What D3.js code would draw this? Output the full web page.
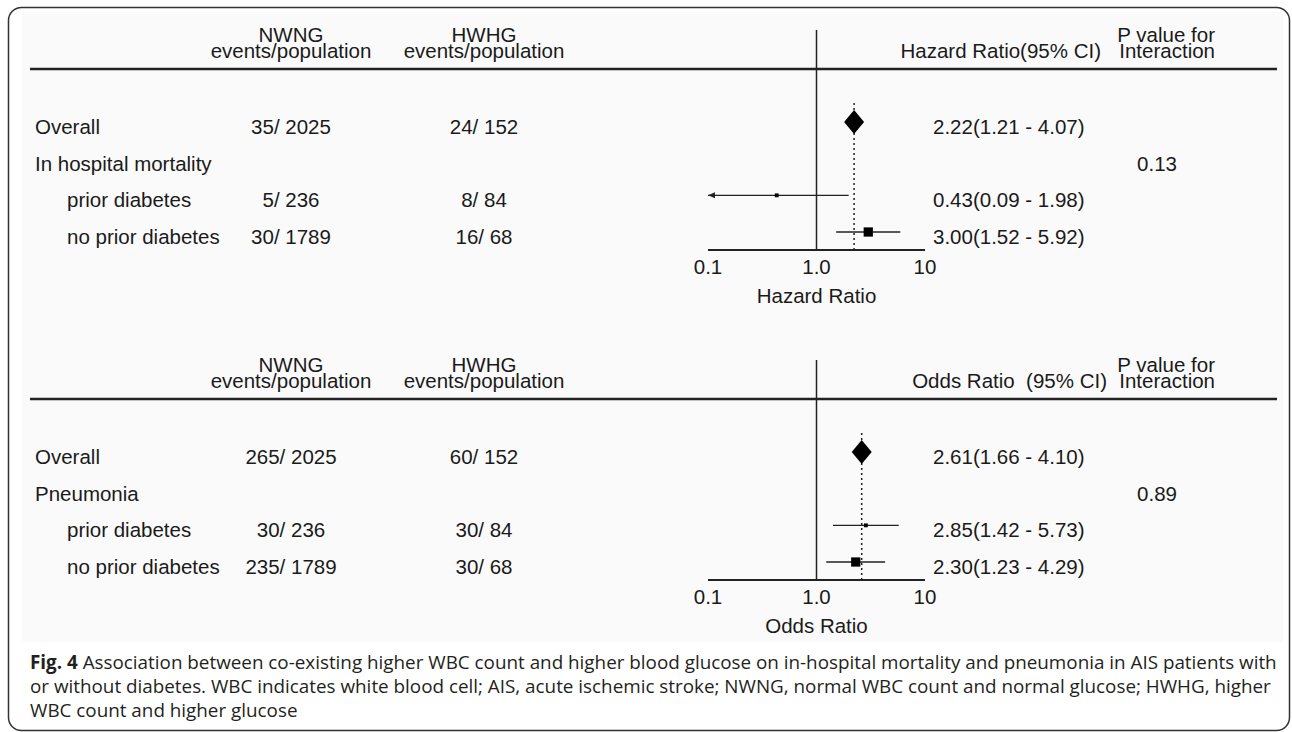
<!DOCTYPE html>
<html lang="en">
<head>
    <meta charset="UTF-8">
    <title>Forest plot - WBC and glucose</title>
    <script src="https://d3js.org/d3.v7.min.js"></script>
    <style>
        body {
            margin: 0;
            background: #fff;
        }
        svg text {
            font-family: "Liberation Sans", Arial, sans-serif;
            font-size: 20.5px;
            fill: #1a1a1a;
            white-space: pre;
        }
        svg text.caption {
            font-family: "Open Sans", "Noto Sans", sans-serif;
            font-size: 19px;
            fill: #231f20;
        }
    </style>
</head>
<body>
    <svg id="chart" width="1292" height="732"></svg>
    <script>
        // ---- data ----
        const panelTitles = ["Hazard Ratio(95% CI)", "Odds Ratio  (95% CI)"];
        const axisTitles = ["Hazard Ratio", "Odds Ratio"];
        const outcomes = ["In hospital mortality", "Pneumonia"];
        const subgroups = ["prior diabetes", "no prior diabetes"];
        const tickValues = [0.1, 1, 10];
        const tickLabels = ["0.1", "1.0", "10"];

        // events / population, order: overall, prior diabetes, no prior diabetes
        const nwngEvents = [[35, 5, 30], [265, 30, 235]];
        const nwngPop = [2025, 236, 1789];
        const hwhgEvents = [[24, 8, 16], [60, 30, 30]];
        const hwhgPop = [152, 84, 68];

        const estimate = [[2.22, 0.43, 3.00], [2.61, 2.85, 2.30]];
        const lower = [[1.21, 0.09, 1.52], [1.66, 1.42, 1.23]];
        const upper = [[4.07, 1.98, 5.92], [4.10, 5.73, 4.29]];
        const pInteraction = ["0.13", "0.89"];

        const captionLines = [
            "Association between co-existing higher WBC count and higher blood glucose on in-hospital mortality and pneumonia in AIS patients with",
            "or without diabetes. WBC indicates white blood cell; AIS, acute ischemic stroke; NWNG, normal WBC count and normal glucose; HWHG, higher",
            "WBC count and higher glucose"
        ];

        // ---- layout ----
        const svg = d3.select("#chart");
        const panelShift = 330;

        const x = d3.scaleLog().domain([0.1, 10]).range([708, 925]);
        const yRow = d3.scaleLinear().domain([0, 3]).range([134, 244]);
        const boxSize = d3.scaleSqrt().domain([0, d3.max(nwngPop.map((p, i) => p + hwhgPop[i]))]).range([0, 10]);

        const colNwng = 291, colHwhg = 484, colLabel = 35, colSub = 67;
        const colEst = 933, colP = 1157, pEnd = 1215;
        const headEnd = [1101, 1107];

        // figure frame + light image background
        svg.append("rect")
            .attr("x", 22).attr("y", 12)
            .attr("width", 1261).attr("height", 630)
            .attr("fill", "#fafafa");

        svg.append("rect")
            .attr("x", 8.5).attr("y", 7.5)
            .attr("width", 1281).attr("height", 723)
            .attr("rx", 13)
            .attr("fill", "none")
            .attr("stroke", "#333")
            .attr("stroke-width", 1.5);

        const fmt = d3.format(".2f");

        [0, 1].forEach(k => {
            const g = svg.append("g").attr("transform", `translate(0,${k * panelShift})`);

            // header
            [[colNwng, "NWNG"], [colHwhg, "HWHG"]].forEach(([cx, name]) => {
                g.append("text").attr("x", cx).attr("y", 42).attr("text-anchor", "middle").text(name);
                g.append("text").attr("x", cx).attr("y", 58).attr("text-anchor", "middle").text("events/population");
            });
            g.append("text").attr("x", headEnd[k]).attr("y", 58).attr("text-anchor", "end").text(panelTitles[k]);
            g.append("text").attr("x", pEnd).attr("y", 42).attr("text-anchor", "end").text("P value for");
            g.append("text").attr("x", pEnd).attr("y", 58).attr("text-anchor", "end").text("Interaction");

            g.append("line")
                .attr("x1", 30).attr("x2", 1277)
                .attr("y1", 69).attr("y2", 69)
                .attr("stroke", "#222").attr("stroke-width", 2.5);

            // null line and axis
            g.append("line")
                .attr("x1", x(1)).attr("x2", x(1))
                .attr("y1", 30).attr("y2", 250)
                .attr("stroke", "#222").attr("stroke-width", 1.5);

            g.append("line")
                .attr("x1", x(0.1)).attr("x2", x(10))
                .attr("y1", 250).attr("y2", 250)
                .attr("stroke", "#222").attr("stroke-width", 2);

            g.selectAll(".tick-label")
                .data(tickValues)
                .enter()
                .append("text")
                .attr("class", "tick-label")
                .attr("x", d => x(d))
                .attr("y", 274)
                .attr("text-anchor", "middle")
                .text((d, i) => tickLabels[i]);

            g.append("text")
                .attr("x", x(1)).attr("y", 303)
                .attr("text-anchor", "middle")
                .text(axisTitles[k]);

            // overall estimate reference (dotted)
            g.append("line")
                .attr("x1", x(estimate[k][0])).attr("x2", x(estimate[k][0]))
                .attr("y1", 103).attr("y2", 250)
                .attr("stroke", "#222").attr("stroke-width", 1.5)
                .attr("stroke-dasharray", "2,3");

            // row labels
            const labels = ["Overall", outcomes[k], subgroups[0], subgroups[1]];
            g.selectAll(".row-label")
                .data(labels)
                .enter()
                .append("text")
                .attr("class", "row-label")
                .attr("x", (d, i) => i < 2 ? colLabel : colSub)
                .attr("y", (d, i) => yRow(i))
                .text(d => d);

            // rows with numbers: overall -> row 0, subgroups -> rows 2,3
            const rows = [0, 1, 2].map(j => ({
                row: j === 0 ? 0 : j + 1,
                nw: `${nwngEvents[k][j]}/ ${nwngPop[j]}`,
                hw: `${hwhgEvents[k][j]}/ ${hwhgPop[j]}`,
                est: estimate[k][j],
                lo: lower[k][j],
                hi: upper[k][j],
                n: nwngPop[j] + hwhgPop[j]
            }));

            rows.forEach(r => {
                const yb = yRow(r.row);
                const ym = yb - 12;
                g.append("text").attr("x", colNwng).attr("y", yb).attr("text-anchor", "middle").text(r.nw);
                g.append("text").attr("x", colHwhg).attr("y", yb).attr("text-anchor", "middle").text(r.hw);
                g.append("text").attr("x", colEst).attr("y", yb)
                    .text(`${fmt(r.est)}(${fmt(r.lo)} - ${fmt(r.hi)})`);

                if (r.row === 0) {
                    const cx = x(r.est);
                    g.append("path")
                        .attr("d", `M${cx - 10},${ym} L${cx},${ym - 12} L${cx + 10},${ym} L${cx},${ym + 12} Z`)
                        .attr("fill", "#000");
                } else {
                    const left = Math.max(r.lo, 0.1);
                    g.append("line")
                        .attr("x1", x(left)).attr("x2", x(r.hi))
                        .attr("y1", ym).attr("y2", ym)
                        .attr("stroke", "#222").attr("stroke-width", 1.3);
                    if (r.lo < 0.1) {
                        const ax = x(0.1);
                        g.append("path")
                            .attr("d", `M${ax},${ym} L${ax + 7},${ym - 3} L${ax + 7},${ym + 3} Z`)
                            .attr("fill", "#222");
                    }
                    const s = boxSize(r.n);
                    g.append("rect")
                        .attr("x", x(r.est) - s / 2).attr("y", ym - s / 2)
                        .attr("width", s).attr("height", s)
                        .attr("fill", "#000");
                }
            });

            g.append("text")
                .attr("x", colP).attr("y", yRow(1))
                .attr("text-anchor", "middle")
                .text(pInteraction[k]);
        });

        // caption
        const capX = 30;
        const capY = [669, 693, 717];
        const cap = svg.append("g");
        const capTexts = captionLines.map((line, i) => {
            const t = cap.append("text")
                .attr("class", "caption")
                .attr("y", 0);
            if (i === 0) {
                t.append("tspan").attr("font-weight", "bold").text("Fig. 4");
                t.append("tspan").text(" " + line);
            } else {
                t.text(line);
            }
            return t;
        });
        const targetWidth = 1278 - capX;
        const sx = targetWidth / capTexts[0].node().getComputedTextLength();
        capTexts.forEach((t, i) => t.attr("transform", `translate(${capX},${capY[i]}) scale(${sx},1)`));
    </script>
</body>
</html>
